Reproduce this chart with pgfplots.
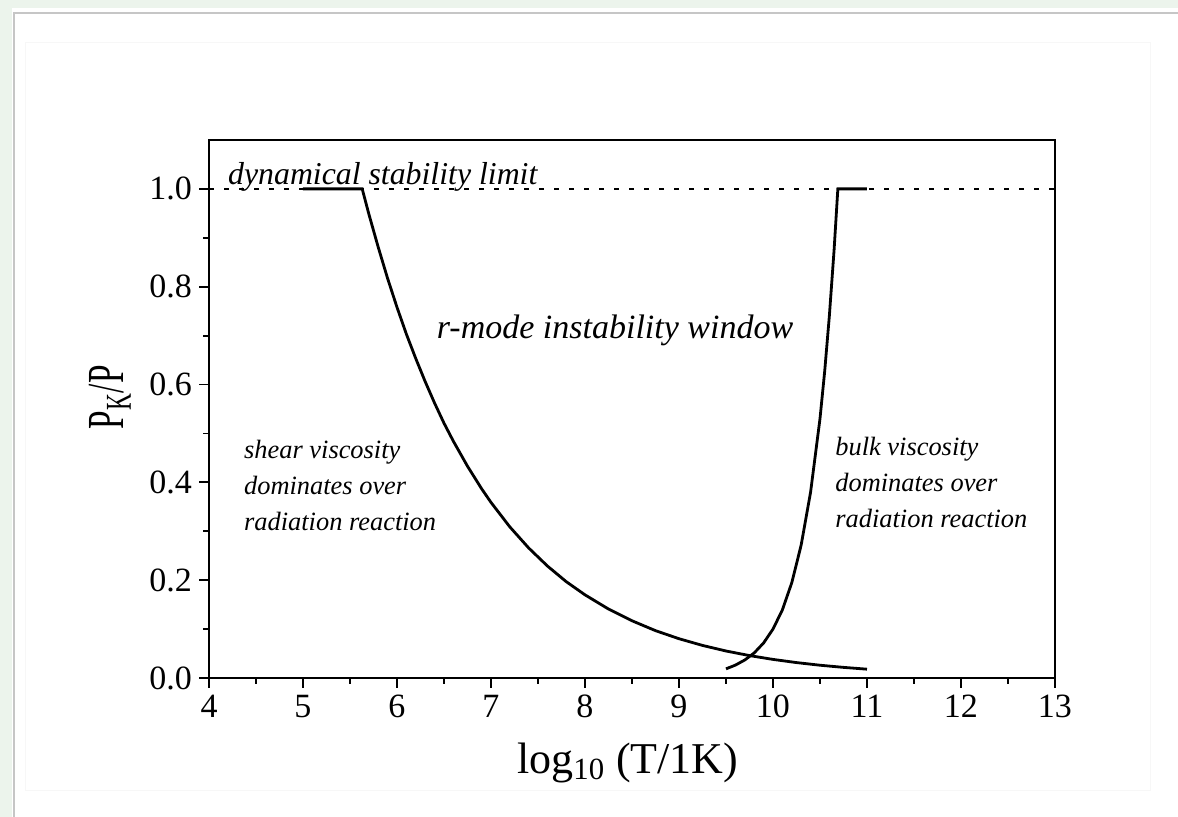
\documentclass[border=0pt]{standalone}
\usepackage{pgfplots}
\pgfplotsset{compat=1.18}
\usepackage{fontspec}
\setmainfont{Liberation Serif}
\begin{document}
\begin{tikzpicture}
\path[use as bounding box] (0,0) rectangle (589pt,408.5pt);
\fill[white] (0,0) rectangle (589pt,408.5pt);
\fill[green!25!gray!12] (0,0) rectangle (6pt,408.5pt);
\fill[green!25!gray!12] (0,404.5pt) rectangle (589pt,408.5pt);
\draw[gray!45, line width=1.2pt] (7pt,0) -- (7pt,402pt) -- (589pt,402pt);
\draw[gray!6] (12.5pt,13.5pt) rectangle (575pt,387.5pt);
\begin{axis}[
  at={(104.5pt,69.5pt)}, anchor=south west,
  scale only axis, width=423pt, height=269pt,
  xmin=4, xmax=13, ymin=0, ymax=1.1,
  xtick={4,...,13}, minor xtick={4.5,5.5,...,12.5},
  ytick={0,0.2,0.4,0.6,0.8,1.0}, minor ytick={0.1,0.3,0.5,0.7,0.9},
  xtick pos=bottom, ytick pos=left,
  tick align=outside,
  major tick length=5pt, minor tick length=3pt,
  every tick/.style={black, line width=0.9pt},
  axis line style={line width=1pt},
  yticklabel style={/pgf/number format/.cd, fixed, fixed zerofill, precision=1},
  /pgf/number format/assume math mode=true,
  tick label style={font=\fontsize{17}{20}\selectfont},
  xlabel={log\textsubscript{10} (T/1K)},
  ylabel={P\textsubscript{K}/P},
  xlabel style={font=\fontsize{22}{26}\selectfont, at={(axis description cs:0.495,-0.1766)}, anchor=base},
  ylabel style={font=\fontsize{26}{30}\selectfont, at={(axis description cs:-0.117,0.522)}, anchor=center, xscale=0.64},
]
\addplot[black, line width=1.3pt, dash pattern=on 2.5pt off 5pt] coordinates {(4,1) (13,1)};
\addplot[black, line width=1.4pt] coordinates {
(5.0,1.0) (5.63,1.0) (5.7,0.949) (5.8,0.881) (5.9,0.817) (6.0,0.758) (6.1,0.703)
(6.2,0.653) (6.3,0.606) (6.4,0.562) (6.5,0.521) (6.6,0.484) (6.75,0.433)
(6.9,0.387) (7.0,0.359) (7.2,0.309) (7.4,0.266) (7.6,0.229) (7.8,0.197)
(8.0,0.170) (8.25,0.141) (8.5,0.117) (8.75,0.0968) (9.0,0.0803) (9.25,0.0666)
(9.5,0.0552) (9.75,0.0458) (10.0,0.0380) (10.25,0.0315) (10.5,0.0261)
(10.75,0.0217) (11.0,0.0180)};
\addplot[black, line width=1.4pt] coordinates {
(9.5,0.0187) (9.6,0.0263) (9.7,0.0368) (9.8,0.0512) (9.9,0.0716) (10.0,0.100)
(10.1,0.1393) (10.2,0.1948) (10.3,0.272) (10.4,0.380) (10.5,0.530)
(10.55,0.627) (10.6,0.741) (10.65,0.875) (10.69,1.0) (11.0,1.0)};
\node[anchor=base west, inner sep=0pt, font=\fontsize{15.9}{19}\selectfont\itshape] at (axis cs:4.2,1.01) {dynamical stability limit};
\node[anchor=base, inner sep=0pt, font=\fontsize{17}{20}\selectfont\itshape] at (axis cs:8.32,0.694) {r-mode instability window};
\node[anchor=north west, inner sep=0pt, align=left, font=\fontsize{13.2}{18}\selectfont\itshape] at (axis cs:4.37,0.488) {shear viscosity\\dominates over\\radiation reaction};
\node[anchor=north west, inner sep=0pt, align=left, font=\fontsize{13.2}{18}\selectfont\itshape] at (axis cs:10.66,0.494) {bulk viscosity\\dominates over\\radiation reaction};
\end{axis}
\end{tikzpicture}
\end{document}
